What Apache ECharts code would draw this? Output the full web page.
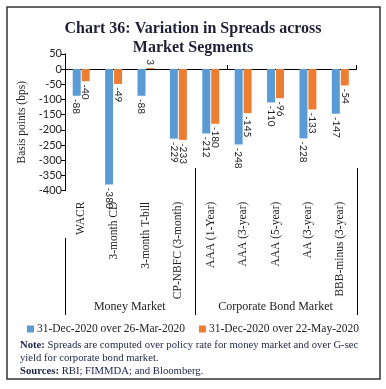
<!DOCTYPE html>
<html>
<head>
<meta charset="utf-8">
<script src="https://cdn.jsdelivr.net/npm/echarts@6/dist/echarts.min.js"></script>
<style>html,body{margin:0;padding:0;background:#fff;}#c{width:386px;height:389px;}</style>
</head>
<body>
<div id="c"></div>
<script>
const categories = ['WACR','3-month CD','3-month T-bill','CP-NBFC (3-month)','AAA (1-Year)','AAA (3-year)','AAA (5-year)','AA (3-year)','BBB-minus (3-year)'];
const seriesNames = ['31-Dec-2020 over 26-Mar-2020','31-Dec-2020 over 22-May-2020'];
const valuesMar = [-88,-380,-88,-229,-212,-248,-110,-228,-147];
const valuesMay = [-40,-49,3,-233,-180,-145,-96,-133,-54];
const yMin = -400, yMax = 50, yInterval = 50;
const groups = [
  {name:'Money Market', from:0, to:3},
  {name:'Corporate Bond Market', from:4, to:8}
];
const titleLines = ['Chart 36: Variation in Spreads across','Market Segments'];
const yAxisName = 'Basis points (bps)';
const noteLines = [
  ['Note:', ' Spreads are computed over policy rate for money market and over G-sec'],
  ['', 'yield for corporate bond market.'],
  ['Sources:', ' RBI; FIMMDA; and Bloomberg.']
];

const SERIF = '"Liberation Serif", "DejaVu Serif", serif';
const SANS = 'Lato, "Liberation Sans", sans-serif';
const TXT = '#222';

function withLabels(vals){
  return vals.map(v => ({
    value: v,
    label: {
      align: v < 0 ? 'left' : 'right'
    }
  }));
}

const chart = echarts.init(document.getElementById('c'));
const option = {
  animation: false,
  title: {
    text: titleLines.join('\n'),
    left: 'center',
    top: 14,
    textStyle: {fontFamily: SERIF, fontSize: 16, fontWeight: 'bold', color: '#1f1f38', lineHeight: 19}
  },
  grid: {left: 65, right: 29.5, top: 53.8, bottom: 198.3, containLabel: false},
  legend: {
    data: seriesNames,
    top: 318,
    left: 'center',
    icon: 'rect',
    itemWidth: 7,
    itemHeight: 7,
    itemGap: 14,
    textStyle: {fontFamily: SERIF, fontSize: 11.5, color: TXT, padding: [0,0,0,-2]}
  },
  xAxis: [
    {
      type: 'category',
      data: categories,
      position: 'bottom',
      axisLine: {onZero: true, lineStyle: {color: '#000', width: 1}},
      axisTick: {show: true, inside: true, length: 4, lineStyle: {color: '#000'}},
      axisLabel: {show: false},
      splitLine: {show: false}
    },
    {
      type: 'category',
      data: categories,
      position: 'bottom',
      axisLine: {show: false, onZero: false},
      axisTick: {show: false},
      axisLabel: {rotate: 90, margin: 11, interval: 0, fontFamily: SERIF, fontSize: 11.5, color: TXT},
      splitLine: {show: false}
    }
  ],
  yAxis: {
    type: 'value',
    min: yMin,
    max: yMax,
    interval: yInterval,
    name: yAxisName,
    nameLocation: 'middle',
    nameGap: 29,
    nameTextStyle: {fontFamily: SERIF, fontSize: 11.5, color: TXT},
    axisLine: {show: true, lineStyle: {color: '#000'}},
    axisTick: {show: true, length: 4, lineStyle: {color: '#000'}},
    axisLabel: {fontFamily: SANS, fontSize: 11, color: TXT, margin: 3},
    splitLine: {show: false}
  },
  series: [
    {
      name: seriesNames[0],
      type: 'bar',
      xAxisIndex: 0,
      data: withLabels(valuesMar),
      barWidth: 8,
      barGap: '12%',
      itemStyle: {color: '#5b9bd5'},
      label: {show: true, position: 'outside', rotate: -90, distance: 3, verticalAlign: 'middle', fontFamily: SANS, fontSize: 10, color: TXT}
    },
    {
      name: seriesNames[1],
      type: 'bar',
      xAxisIndex: 0,
      data: withLabels(valuesMay),
      barWidth: 8,
      barGap: '12%',
      itemStyle: {color: '#ed7d31'},
      label: {show: true, position: 'outside', rotate: -90, distance: 3, verticalAlign: 'middle', fontFamily: SANS, fontSize: 10, color: TXT}
    }
  ]
};
chart.setOption(option);

// Decorations: frame, group separators and labels, notes
const c0 = chart.convertToPixel({xAxisIndex: 0}, 0);
const c1 = chart.convertToPixel({xAxisIndex: 0}, 1);
const w = c1 - c0;
const boundary = i => c0 - w / 2 + i * w;
const gfx = [];
gfx.push({type: 'rect', shape: {x: 7, y: 7, width: 373, height: 372}, style: {fill: 'none', stroke: '#333', lineWidth: 1.5}, silent: true});
const sepTop = [238, 168, 168];
const sepBottom = 315;
const seps = [boundary(groups[0].from), boundary(groups[1].from), boundary(groups[1].to + 1)];
seps.forEach((x, i) => {
  gfx.push({type: 'line', shape: {x1: Math.round(x) + 0.5, y1: sepTop[i], x2: Math.round(x) + 0.5, y2: sepBottom}, style: {stroke: '#000', lineWidth: 1}, silent: true});
});
groups.forEach(g => {
  const cx = (boundary(g.from) + boundary(g.to + 1)) / 2;
  gfx.push({type: 'text', x: cx, y: 307, style: {text: g.name, fontFamily: SERIF, fontSize: 12, fill: TXT, align: 'center', verticalAlign: 'middle'}, silent: true});
});
noteLines.forEach((ln, i) => {
  gfx.push({
    type: 'text', x: 20, y: 345 + i * 13,
    style: {
      text: (ln[0] ? '{b|' + ln[0] + '}' : '') + '{n|' + ln[1] + '}',
      verticalAlign: 'middle',
      rich: {
        b: {fontFamily: SERIF, fontSize: 10.7, fontWeight: 'bold', fill: '#1c2448'},
        n: {fontFamily: SERIF, fontSize: 10.7, fill: '#1c2448'}
      }
    },
    silent: true
  });
});
chart.setOption({graphic: gfx});
</script>
</body>
</html>
